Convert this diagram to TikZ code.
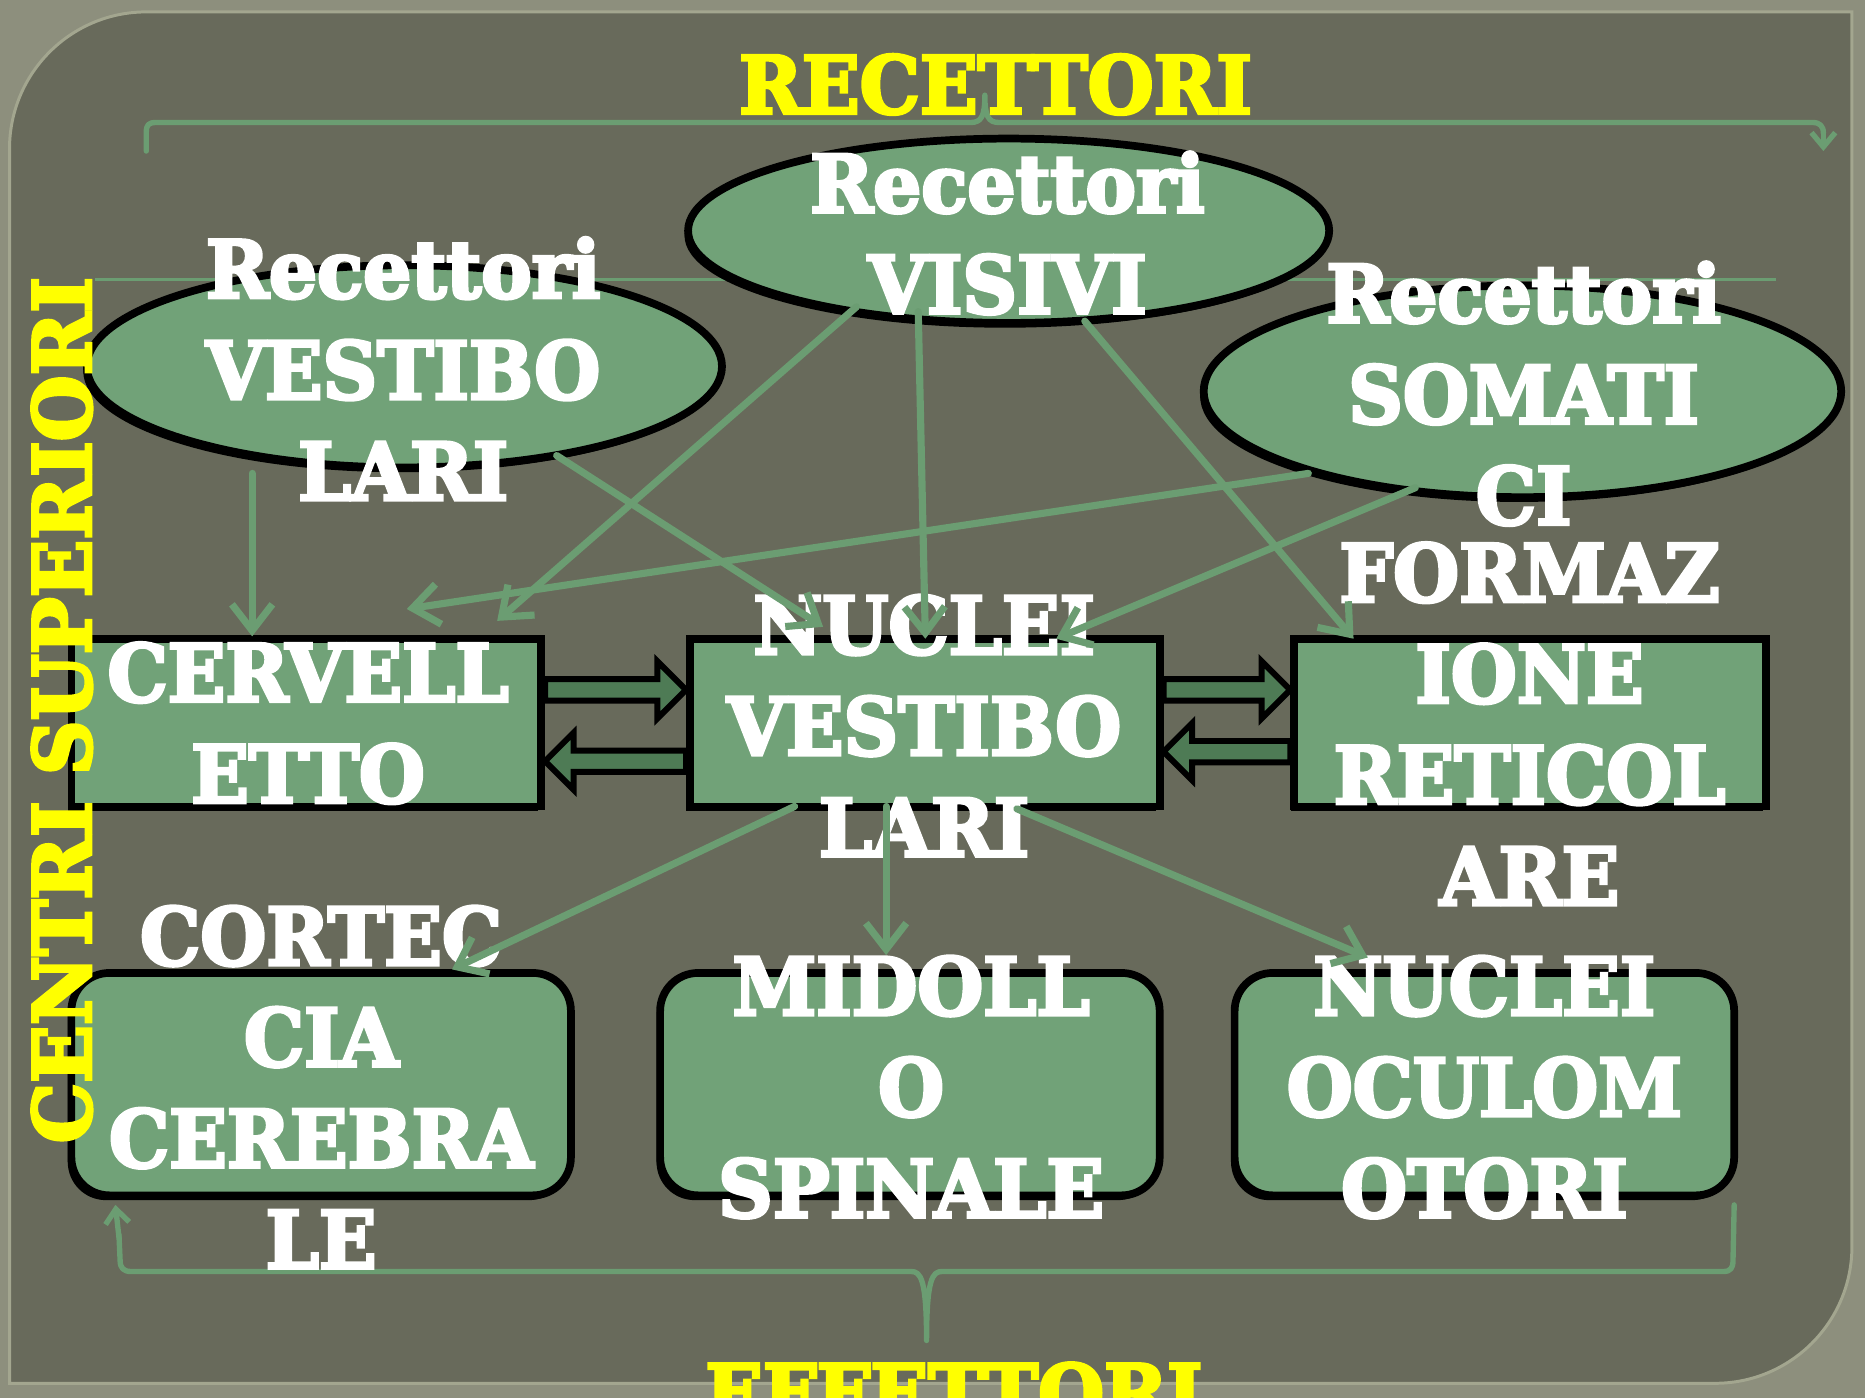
\documentclass[tikz,border=0pt]{standalone}
\usepackage{fontspec}
\setmainfont{DejaVu Serif}
\newfontfamily\heavyfont[FakeBold=4, FakeStretch=0.95]{DejaVu Serif Bold}
\usetikzlibrary{arrows.meta,calc,shapes.geometric,shadows}
\definecolor{outerbg}{HTML}{8D8F7D}
\definecolor{panelc}{HTML}{686A5B}
\definecolor{panelrim}{HTML}{A3A68F}
\definecolor{boxgreen}{HTML}{71A278}
\definecolor{linegreen}{HTML}{6B9D72}
\definecolor{arrgreen}{HTML}{4E7B55}
\definecolor{ttlyellow}{HTML}{FFFF00}
\tikzset{
  shadowed/.style={drop shadow={shadow xshift=-3pt, shadow yshift=-4pt, opacity=1, fill=black}},
  ellbox/.style={ellipse, draw=black, line width=6.5pt, fill=boxgreen, inner sep=0pt, shadowed},
  sqbox/.style={rectangle, draw=black, line width=6.5pt, fill=boxgreen, inner sep=0pt, shadowed},
  rbox/.style={rectangle, rounded corners=32pt, draw=black, line width=6.5pt, fill=boxgreen, inner sep=0pt, shadowed},
  lbl/.style={text=white, font=\fontsize{67}{85}\selectfont\heavyfont, align=center, inner sep=0pt},
  ttl/.style={text=ttlyellow, font=\fontsize{67}{85}\selectfont\heavyfont, inner sep=0pt},
  conn/.style={draw=linegreen, line width=6pt, line cap=round, -{Straight Barb[length=22pt,width=34pt,line width=6pt]}},
  braceln/.style={draw=linegreen, line width=4.5pt, line cap=round, line join=round},
  blockarr/.style={fill=arrgreen, draw=black, line width=5pt, line join=miter},
}
\newcommand\blockarrow[2]{%
  \path[blockarr] let \p1=#1, \p2=#2, \n1={sign(\x2-\x1)} in
    (\x1,{\y1+9pt}) -- ({\x2-\n1*24pt},{\y1+9pt}) -- ({\x2-\n1*24pt},{\y1+24pt})
    -- (\x2,\y1) -- ({\x2-\n1*24pt},{\y1-24pt}) -- ({\x2-\n1*24pt},{\y1-9pt})
    -- (\x1,{\y1-9pt}) -- cycle;}
\begin{document}
\begin{tikzpicture}[x=1pt,y=-1pt]
\useasboundingbox (0,0) rectangle (1568,1175);
\clip (0,0) rectangle (1568,1175);
% background
\fill[outerbg] (0,0) rectangle (1568,1175);
\fill[panelc, draw=panelrim, line width=2.5pt] (8,1163) -- (8,125) .. controls (8,61.5) and (59.5,10) .. (123,10)
  -- (1557,10) -- (1557,1048) .. controls (1557,1111.5) and (1505.5,1163) .. (1442,1163) -- cycle;
% top brace
\draw[braceln] (123,127) -- (123,111) .. controls (123,105) and (125,103) .. (131,103) -- (816,103)
  .. controls (825,103) and (828,98) .. (828,80) .. controls (828,98) and (831,103) .. (840,103)
  -- (1524,103) .. controls (1530,103) and (1533,106) .. (1533,112);
\draw[braceln, -{Straight Barb[length=12pt,width=20pt,line width=4.5pt]}] (1533,110) -- (1533,127);
% thin line behind ellipses
\draw[linegreen, line width=2.5pt] (80,235) -- (1493,235);
% bottom brace
\draw[braceln, -{Straight Barb[length=12pt,width=20pt,line width=4.5pt]}] (100,1040) -- (97,1013);
\draw[braceln] (100,1038) -- (101,1060) .. controls (101,1066) and (104,1069) .. (110,1069) -- (766,1069)
  .. controls (774,1069) and (779,1075) .. (779,1127) .. controls (779,1075) and (784,1069) .. (792,1069)
  -- (1449,1069) .. controls (1455,1069) and (1457,1066) .. (1457,1060) -- (1458,1013);
% top and bottom titles
\node[ttl] (ttop) at (837,71) {RECETTORI};
\node[ttl] (tbot) at (802,1171) {EFFETTORI};
% receptor ellipses
\node[ellbox, minimum width=534pt, minimum height=170pt] (rv) at (340,308) {};
\node[ellbox, minimum width=539pt, minimum height=155pt] (rvis) at (848,194) {};
\node[ellbox, minimum width=536pt, minimum height=178pt] (rs) at (1280,329) {};
% boxes
\node[sqbox, minimum width=395pt, minimum height=141pt] (cer) at (257.5,607.5) {};
\node[sqbox, minimum width=395pt, minimum height=141pt] (nv) at (777.5,607.5) {};
\node[sqbox, minimum width=397pt, minimum height=141pt] (fr) at (1286.5,607.5) {};
\node[rbox, minimum width=420pt, minimum height=187pt] (cc) at (270,911.5) {};
\node[rbox, minimum width=420pt, minimum height=187pt] (ms) at (765,911.5) {};
\node[rbox, minimum width=420pt, minimum height=187pt] (no) at (1248,911.5) {};
% block arrows
\blockarrow{($(cer.east)+(0,-27.5)$)}{($(nv.west)+(0,-27.5)$)}
\blockarrow{($(nv.west)+(0,32.5)$)}{($(cer.east)+(0,32.5)$)}
\blockarrow{($(nv.east)+(0,-27.5)$)}{($(fr.west)+(0,-27.5)$)}
\blockarrow{($(fr.west)+(0,24.5)$)}{($(nv.east)+(0,24.5)$)}
% labels
\node[lbl] (rvt) at (339,310) {Recettori\\VESTIBO\\LARI};
\node[lbl] (rvist) at (847,196) {Recettori\\VISIVI};
\node[lbl] (rst) at (1281,331) {Recettori\\SOMATI\\CI};
\node[lbl] (cert) at (259,608) {CERVELL\\ETTO};
\node[lbl] (nvt) at (777,610) {NUCLEI\\VESTIBO\\LARI};
\node[lbl] (frt) at (1286,608.5) {FORMAZ\\IONE\\RETICOL\\ARE};
\node[lbl] (cct) at (270,914) {CORTEC\\CIA\\CEREBRA\\LE};
\node[lbl] (mst) at (766,914) {MIDOLL\\O\\SPINALE};
\node[lbl] (not) at (1248,914) {NUCLEI\\OCULOM\\OTORI};
% left title over the shapes
\node[ttl, rotate=90] (tleft) at (52,597) {CENTRI SUPERIORI};
% connectors
\draw[conn] ($(rv.center)+(-128,90)$) -- ($(cer.center)+(-45.5,-72.5)$);
\draw[conn] ($(rv.center)+(128,75)$) -- ($(nv.center)+(-85.5,-80.5)$);
\draw[conn] ($(rvis.center)+(-128,64)$) -- ($(cer.center)+(160.5,-85.5)$);
\draw[conn] ($(rvis.center)+(-76,68)$) -- ($(nv.center)+(0.5,-70.5)$);
\draw[conn] ($(rvis.center)+(64,76)$) -- ($(fr.center)+(-148.5,-70.5)$);
\draw[conn] ($(rs.center)+(-180,69)$) -- ($(cer.center)+(84.5,-95.5)$);
\draw[conn] ($(rs.center)+(-90,81)$) -- ($(nv.center)+(110.5,-70.5)$);
\draw[conn] ($(nv.center)+(-109.5,70.5)$) -- ($(cc.center)+(110,-96.5)$);
\draw[conn] ($(nv.center)+(-32.5,70.5)$) -- ($(ms.center)+(-20,-108.5)$);
\draw[conn] ($(nv.center)+(77.5,72.5)$) -- ($(no.center)+(-98,-106.5)$);
\end{tikzpicture}
\end{document}
